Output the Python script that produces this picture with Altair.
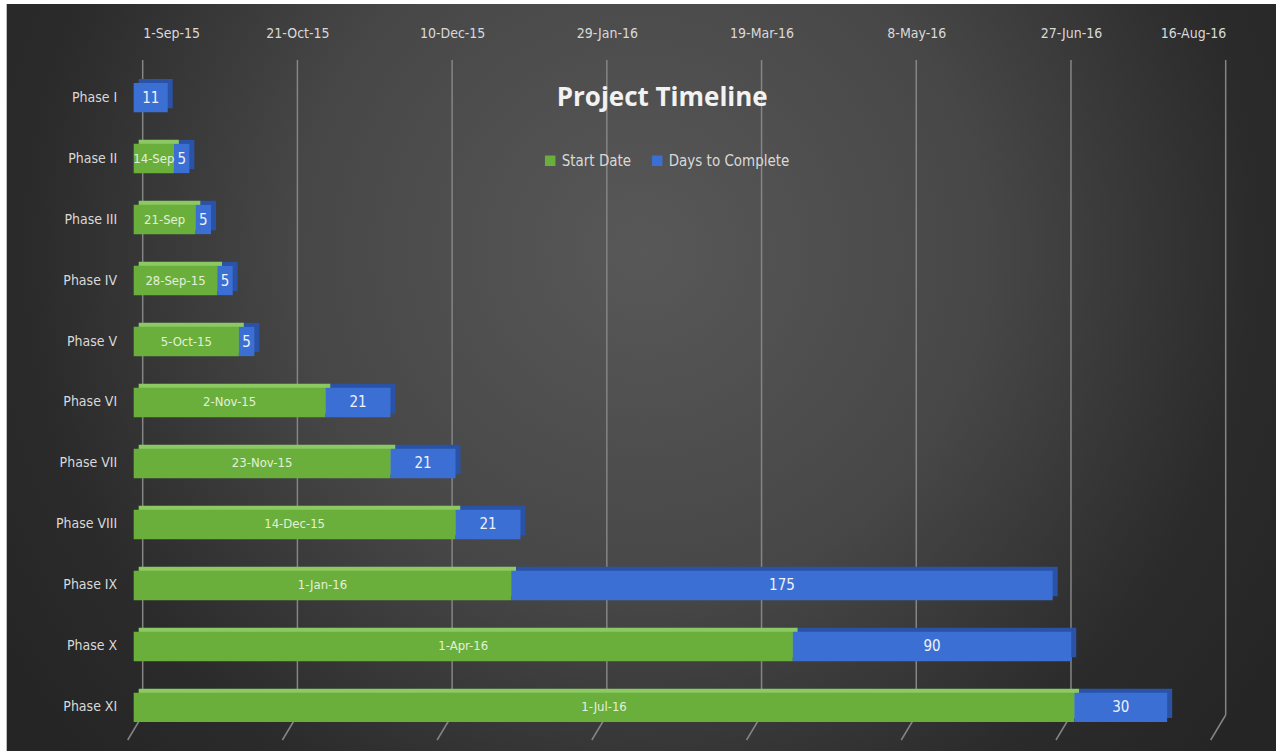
import altair as alt
import pandas as pd

# ---------------- data ----------------
phases = ["Phase I", "Phase II", "Phase III", "Phase IV", "Phase V", "Phase VI",
          "Phase VII", "Phase VIII", "Phase IX", "Phase X", "Phase XI"]
start_dates = ["2015-09-01", "2015-09-14", "2015-09-21", "2015-09-28", "2015-10-05",
               "2015-11-02", "2015-11-23", "2015-12-14", "2016-01-01", "2016-04-01",
               "2016-07-01"]
days_to_complete = [11, 5, 5, 5, 5, 21, 21, 21, 175, 90, 30]
start_labels = ["", "14-Sep", "21-Sep", "28-Sep-15", "5-Oct-15", "2-Nov-15",
                "23-Nov-15", "14-Dec-15", "1-Jan-16", "1-Apr-16", "1-Jul-16"]
tick_dates = ["2015-09-01", "2015-10-21", "2015-12-10", "2016-01-29",
              "2016-03-19", "2016-05-08", "2016-06-27", "2016-08-16"]
axis_min = "2015-09-01"
axis_max = "2016-08-16"
series_names = ["Start Date", "Days to Complete"]

# ---------------- table ----------------
rows = []
for ph, sd, d, lab in zip(phases, start_dates, days_to_complete, start_labels):
    end = (pd.Timestamp(sd) + pd.Timedelta(days=d)).strftime("%Y-%m-%d")
    rows.append({"phase": ph, "series": "Start Date", "x0": axis_min, "x1": sd, "label": lab})
    rows.append({"phase": ph, "series": "Days to Complete", "x0": sd, "x1": end, "label": str(d)})
df = pd.DataFrame(rows)
ticks_df = pd.DataFrame({"date": tick_dates})


def ms(s):
    return int(pd.Timestamp(s, tz="UTC").timestamp() * 1000)


FONT = "Liberation Sans Narrow, DejaVu Sans Condensed, Roboto"
GREEN = "#6aaf3c"
GREEN_TOP = "#8cc963"
BLUE = "#3b6fd3"
BLUE_BACK = "#2a52a6"
TXT = "#d9d9d9"

xscale = alt.Scale(type="utc", domain=[ms(axis_min), ms(axis_max)])
xaxis = alt.Axis(orient="top", values=[ms(t) for t in tick_dates],
                 labelExpr="utcFormat(datum.value, '%-d-%b-%y')",
                 grid=False, ticks=False, tickSize=0, domain=False, title=None, zindex=1,
                 labelColor=TXT, labelFont=FONT, labelFontSize=14, labelPadding=20)
yscale = alt.Scale(domain=phases, paddingInner=0.52, paddingOuter=0.375)
yaxis = alt.Axis(title=None, ticks=False, tickSize=0, domain=False, labelColor=TXT, zindex=1,
                 labelFont=FONT, labelFontSize=14, labelPadding=26)

# background
bg_gradient = {
    "gradient": "radial",
    "stops": [
        {"offset": 0, "color": "#585858"},
        {"offset": 0.45, "color": "#474747"},
        {"offset": 0.8, "color": "#2b2b2b"},
        {"offset": 1, "color": "#252525"},
    ],
    "x1": 0.5, "y1": 0.4, "r1": 0,
    "x2": 0.5, "y2": 0.4, "r2": 0.6,
}
bg = alt.Chart(pd.DataFrame({"a": [0]})).mark_rect(fill=bg_gradient, strokeWidth=0).encode(
    x=alt.value(-136), x2=alt.value(1134), y=alt.value(-56), y2=alt.value(691)
)

X0 = alt.X("x0:T", scale=xscale, axis=xaxis)
ypos = alt.Y("phase:N", sort=phases, scale=yscale, axis=yaxis)

# gridlines
grid_v = alt.Chart(ticks_df).mark_rule(color="#858585", strokeWidth=1.5).encode(
    x=alt.X("date:T", scale=xscale, axis=xaxis),
    y=alt.value(0), y2=alt.value(655),
)
grid_tail = alt.Chart(ticks_df).mark_rule(color="#858585", strokeWidth=1.5, x2Offset=-15).encode(
    x=alt.X("date:T", scale=xscale, axis=xaxis),
    x2=alt.X2("date:T"),
    y=alt.value(655), y2=alt.value(680),
)

base = alt.Chart(df)

back_green = base.transform_filter(alt.datum.series == "Start Date").mark_bar(
    color=GREEN_TOP, yOffset=-4, xOffset=-4, x2Offset=-4
).encode(x=X0, x2="x1:T", y=ypos)

back_blue = base.transform_filter(alt.datum.series == "Days to Complete").mark_bar(
    color=BLUE_BACK, yOffset=-4, xOffset=-4, x2Offset=-4
).encode(x=X0, x2="x1:T", y=ypos)

main = base.mark_bar(xOffset=-9, x2Offset=-9).encode(
    x=X0,
    x2="x1:T",
    y=ypos,
    color=alt.Color("series:N",
                    scale=alt.Scale(domain=series_names, range=[GREEN, BLUE]),
                    legend=alt.Legend(orient="none", legendX=400, legendY=93,
                                      direction="horizontal", title=None,
                                      symbolType="square", symbolSize=110,
                                      symbolStrokeWidth=0,
                                      labelColor=TXT, labelFont=FONT, labelFontSize=15,
                                      columnPadding=18, padding=0)),
)

labels_green = base.transform_filter(
    (alt.datum.series == "Start Date") & (alt.datum.label != "")
).transform_calculate(
    mid="(time(toDate(datum.x0)) + time(toDate(datum.x1))) / 2"
).mark_text(font=FONT, fontSize=13, color="#e4efd9", dx=-9).encode(
    x=alt.X("mid:T", scale=xscale, axis=xaxis), y=ypos, text="label:N"
)

labels_blue = base.transform_filter(
    alt.datum.series == "Days to Complete"
).transform_calculate(
    mid="(time(toDate(datum.x0)) + time(toDate(datum.x1))) / 2"
).mark_text(font=FONT, fontSize=15, color="#eef2fb", dx=-9).encode(
    x=alt.X("mid:T", scale=xscale, axis=xaxis), y=ypos, text="label:N"
)

chart = alt.layer(
    bg, grid_v, grid_tail, back_green, back_blue, main, labels_green, labels_blue
).properties(
    width=1083, height=685,
    padding={"left": 142.7, "top": 60, "right": 50, "bottom": 8},
    autosize="none",
    background="#ffffff",
    title=alt.Title("Project  Timeline", font="Open Sans", fontSize=26, fontWeight="bold",
                    color="#f2f2f2", anchor="middle", offset=-107, dx=-22),
).configure_view(stroke=None)

chart.save("out.html", embed_options={"renderer": "svg", "actions": False})
